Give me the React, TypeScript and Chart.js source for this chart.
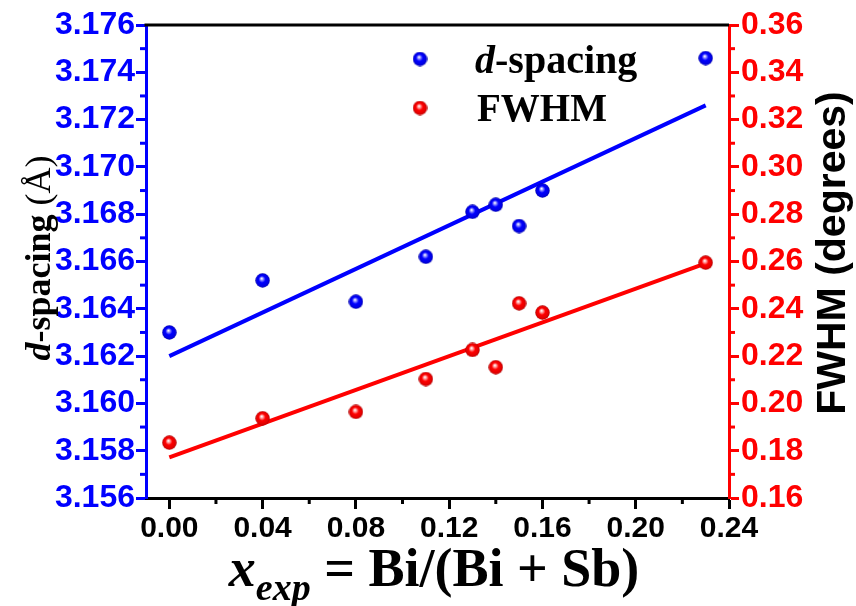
import React, { useEffect, useRef } from "react";
import { Chart, registerables } from "chart.js";

Chart.register(...registerables);

// ---- data ----
const xValues = [0.0, 0.04, 0.08, 0.11, 0.13, 0.14, 0.15, 0.16, 0.23];
const dSpacing = [3.163, 3.1652, 3.1643, 3.1662, 3.1681, 3.1684, 3.1675, 3.1690, 3.1746];
const fwhm = [0.1834, 0.1937, 0.1964, 0.2103, 0.2226, 0.2153, 0.2423, 0.2384, 0.2595];
const fitX = [0.0, 0.23];
const dSpacingFit = [3.1620, 3.1726];
const fwhmFit = [0.1772, 0.2592];

const xTicks = [0.0, 0.04, 0.08, 0.12, 0.16, 0.2, 0.24];
const xMinorTicks = [0.02, 0.06, 0.1, 0.14, 0.18, 0.22];
const yTicks = [3.156, 3.158, 3.16, 3.162, 3.164, 3.166, 3.168, 3.17, 3.172, 3.174, 3.176];
const yMinorTicks = [3.157, 3.159, 3.161, 3.163, 3.165, 3.167, 3.169, 3.171, 3.173, 3.175];
const y1Ticks = [0.16, 0.18, 0.2, 0.22, 0.24, 0.26, 0.28, 0.3, 0.32, 0.34, 0.36];
const y1MinorTicks = [0.17, 0.19, 0.21, 0.23, 0.25, 0.27, 0.29, 0.31, 0.33, 0.35];

const BLUE = "#0000ff";
const RED = "#ff0000";
const SANS = "'Liberation Sans', Arial, sans-serif";
const SERIF = "'Liberation Serif', 'Times New Roman', serif";

function makeSphere(stops: string[]): HTMLCanvasElement {
  const size = 15;
  const c = document.createElement("canvas");
  c.width = size;
  c.height = size;
  const g = c.getContext("2d")!;
  const r = size / 2 - 0.3;
  const cx = size / 2;
  const cy = size / 2;
  const grad = g.createRadialGradient(cx - 1.0, cy - 2.0, 0.3, cx, cy, r);
  grad.addColorStop(0, stops[0]);
  grad.addColorStop(0.22, stops[1]);
  grad.addColorStop(0.45, stops[2]);
  grad.addColorStop(0.85, stops[3]);
  grad.addColorStop(1, stops[4]);
  g.fillStyle = grad;
  g.beginPath();
  g.arc(cx, cy, r, 0, Math.PI * 2);
  g.fill();
  return c;
}

type Run = { text: string; font: string; dy?: number };

function drawRuns(ctx: CanvasRenderingContext2D, runs: Run[], cx: number, y: number) {
  let total = 0;
  const widths = runs.map((r) => {
    ctx.font = r.font;
    const w = ctx.measureText(r.text).width;
    total += w;
    return w;
  });
  let x = cx - total / 2;
  runs.forEach((r, i) => {
    ctx.font = r.font;
    ctx.fillText(r.text, x, y + (r.dy || 0));
    x += widths[i];
  });
}

function drawRunsLeft(ctx: CanvasRenderingContext2D, runs: Run[], x0: number, y: number) {
  let x = x0;
  runs.forEach((r) => {
    ctx.font = r.font;
    ctx.fillText(r.text, x, y + (r.dy || 0));
    x += ctx.measureText(r.text).width;
  });
}

export default function App() {
  const ref = useRef<HTMLCanvasElement | null>(null);

  useEffect(() => {
    if (!ref.current) return;
    const blueBall = makeSphere(["#ffffff", "#7a7aff", "#0000ff", "#0000e0", "#0000a8"]);
    const redBall = makeSphere(["#ffffff", "#ff8a8a", "#ff0000", "#e00000", "#a80000"]);

    const decor = {
      id: "decor",
      afterDraw(chart: any) {
        const ctx: CanvasRenderingContext2D = chart.ctx;
        const { left, right, top, bottom } = chart.chartArea;
        const sx = chart.scales.x;
        const sy = chart.scales.y;
        const sy1 = chart.scales.y1;
        ctx.save();
        // top frame
        ctx.strokeStyle = "#000";
        ctx.lineWidth = 3;
        ctx.beginPath();
        ctx.moveTo(left - 1.5, top);
        ctx.lineTo(right, top);
        ctx.stroke();
        // minor ticks
        const minorLen = 6;
        ctx.lineWidth = 3;
        ctx.strokeStyle = "#000";
        xMinorTicks.forEach((v) => {
          const px = sx.getPixelForValue(v);
          ctx.beginPath();
          ctx.moveTo(px, bottom);
          ctx.lineTo(px, bottom + minorLen);
          ctx.stroke();
        });
        ctx.strokeStyle = BLUE;
        yMinorTicks.forEach((v) => {
          const py = sy.getPixelForValue(v);
          ctx.beginPath();
          ctx.moveTo(left, py);
          ctx.lineTo(left - minorLen, py);
          ctx.stroke();
        });
        ctx.strokeStyle = RED;
        y1MinorTicks.forEach((v) => {
          const py = sy1.getPixelForValue(v);
          ctx.beginPath();
          ctx.moveTo(right, py);
          ctx.lineTo(right + minorLen, py);
          ctx.stroke();
        });

        // legend
        ctx.drawImage(blueBall, 420 - 7.5, 59 - 7.5);
        ctx.drawImage(redBall, 420 - 7.5, 108 - 7.5);
        ctx.fillStyle = "#000";
        ctx.textBaseline = "alphabetic";
        ctx.textAlign = "left";
        drawRunsLeft(
          ctx,
          [
            { text: "d", font: `italic bold 40px ${SERIF}` },
            { text: "-spacing", font: `bold 40px ${SERIF}` },
          ],
          475,
          73
        );
        drawRunsLeft(ctx, [{ text: "FWHM", font: `bold 39px ${SERIF}` }], 477, 121);

        // bottom title
        drawRuns(
          ctx,
          [
            { text: "x", font: `italic bold 54px ${SERIF}` },
            { text: "exp", font: `italic bold 38px ${SERIF}`, dy: 14 },
            { text: " = Bi/(Bi + Sb)", font: `bold 54px ${SERIF}` },
          ],
          434,
          586
        );

        // left title
        ctx.save();
        ctx.translate(50, 258);
        ctx.rotate(-Math.PI / 2);
        drawRuns(
          ctx,
          [
            { text: "d", font: `italic bold 36px ${SERIF}` },
            { text: "-spacing", font: `bold 36px ${SERIF}` },
            { text: " (Å)", font: `36px ${SERIF}` },
          ],
          0,
          0
        );
        ctx.restore();

        // right title
        ctx.save();
        ctx.translate(845, 253);
        ctx.rotate(-Math.PI / 2);
        drawRuns(ctx, [{ text: "FWHM (degrees)", font: `bold 41px ${SANS}` }], 0, 0);
        ctx.restore();

        ctx.restore();
      },
    };

    const chart = new Chart(ref.current, {
      type: "scatter",
      data: {
        datasets: [
          {
            label: "d-spacing",
            data: xValues.map((x, i) => ({ x, y: dSpacing[i] })),
            yAxisID: "y",
            pointStyle: blueBall as any,
            order: 0,
          },
          {
            label: "FWHM",
            data: xValues.map((x, i) => ({ x, y: fwhm[i] })),
            yAxisID: "y1",
            pointStyle: redBall as any,
            order: 0,
          },
          {
            type: "line" as any,
            label: "d fit",
            data: fitX.map((x, i) => ({ x, y: dSpacingFit[i] })),
            yAxisID: "y",
            borderColor: BLUE,
            borderWidth: 4,
            pointRadius: 0,
            showLine: true,
            fill: false,
            order: 1,
          },
          {
            type: "line" as any,
            label: "FWHM fit",
            data: fitX.map((x, i) => ({ x, y: fwhmFit[i] })),
            yAxisID: "y1",
            borderColor: RED,
            borderWidth: 4,
            pointRadius: 0,
            showLine: true,
            fill: false,
            order: 1,
          },
        ],
      },
      options: {
        animation: false,
        responsive: false,
        devicePixelRatio: 1,
        layout: { padding: { top: 25, left: 0, right: 0, bottom: 0 } },
        plugins: { legend: { display: false }, tooltip: { enabled: false } },
        scales: {
          x: {
            type: "linear",
            position: "bottom",
            min: -0.01,
            max: 0.24,
            afterBuildTicks: (s: any) => {
              s.ticks = xTicks.map((v) => ({ value: v }));
            },
            afterFit: (s: any) => {
              s.height = 108;
            },
            border: { display: true, color: "#000", width: 3 },
            grid: { drawOnChartArea: false, drawTicks: true, tickLength: 11, tickWidth: 3, tickColor: "#000" },
            ticks: {
              color: "#000",
              padding: 2,
              maxRotation: 0,
              autoSkip: false,
              font: { family: SANS, weight: "bold", size: 30 },
              callback: (v: any) => Number(v).toFixed(2),
            },
          },
          y: {
            type: "linear",
            position: "left",
            min: 3.156,
            max: 3.176,
            afterBuildTicks: (s: any) => {
              s.ticks = yTicks.map((v) => ({ value: v }));
            },
            afterFit: (s: any) => {
              s.width = 146;
            },
            border: { display: true, color: BLUE, width: 3 },
            grid: { drawOnChartArea: false, drawTicks: true, tickLength: 10, tickWidth: 3, tickColor: BLUE },
            ticks: {
              color: BLUE,
              padding: 1,
              autoSkip: false,
              font: { family: SANS, weight: "bold", size: 32 },
              callback: (v: any) => Number(v).toFixed(3),
            },
          },
          y1: {
            type: "linear",
            position: "right",
            min: 0.16,
            max: 0.36,
            afterBuildTicks: (s: any) => {
              s.ticks = y1Ticks.map((v) => ({ value: v }));
            },
            afterFit: (s: any) => {
              s.width = 127;
            },
            border: { display: true, color: RED, width: 3 },
            grid: { drawOnChartArea: false, drawTicks: true, tickLength: 10, tickWidth: 3, tickColor: RED },
            ticks: {
              color: RED,
              padding: 2,
              autoSkip: false,
              font: { family: SANS, weight: "bold", size: 32 },
              callback: (v: any) => Number(v).toFixed(2),
            },
          },
        },
      },
      plugins: [decor],
    });
    return () => chart.destroy();
  }, []);

  return (
    <div style={{ position: "fixed", left: 0, top: 0, width: 856, height: 606, background: "#fff" }}>
      <canvas ref={ref} width={856} height={606} style={{ display: "block" }} />
    </div>
  );
}
